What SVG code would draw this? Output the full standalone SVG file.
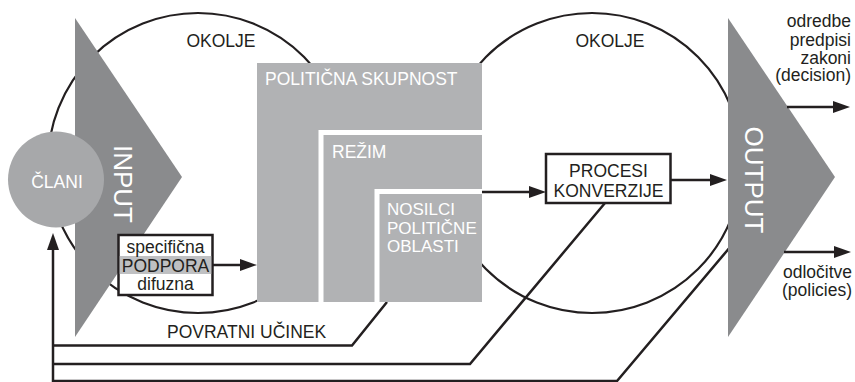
<svg xmlns="http://www.w3.org/2000/svg" width="855" height="382" viewBox="0 0 855 382">
<style>
text{font-family:"Liberation Sans",Arial,sans-serif;font-size:17.5px;fill:#231f20}
.w{fill:#fff}
.s{font-size:17px}
.big{font-size:26px;fill:#fff}
.ring{fill:none;stroke:#231f20;stroke-width:2.2}
.ln{fill:none;stroke:#231f20;stroke-width:2.5}
.tri{fill:#8a8b8d}
.box{fill:#fff;stroke:#231f20;stroke-width:2.5}
.gap{fill:none;stroke:#fff;stroke-width:5;stroke-linejoin:miter}
</style>
<defs>
<marker id="ah" markerUnits="userSpaceOnUse" markerWidth="17" markerHeight="12" refX="4" refY="6" orient="auto">
<path d="M0,0 L17,6 L0,12 z" fill="#231f20"/>
</marker>
</defs>
<rect width="855" height="382" fill="#fff"/>
<g id="okolje-left">
<circle class="ring" cx="198" cy="163" r="150"/>
<text x="221" y="47" text-anchor="middle">OKOLJE</text>
</g>
<g id="okolje-right">
<circle class="ring" cx="592" cy="163" r="150"/>
<text x="610" y="47" text-anchor="middle">OKOLJE</text>
</g>
<g id="feedback">
<polyline class="ln" points="53,345.5 352,345.5 387,302"/>
<polyline class="ln" points="53,364 470,364 605,203"/>
<polyline class="ln" points="53,381 617,381 731,246"/>
<text x="167" y="338">POVRATNI UČINEK</text>
</g>
<g id="input">
<polygon class="tri" points="75,18 182,177 75,337"/>
<text class="big" transform="translate(114,184) rotate(90)" text-anchor="middle">INPUT</text>
</g>
<g id="output">
<polygon class="tri" points="728,18 835,177 728,337"/>
<text class="big" transform="translate(745,180) rotate(90)" text-anchor="middle">OUTPUT</text>
</g>
<g id="clani">
<circle cx="56" cy="179.5" r="48" fill="#a7a8aa"/>
<text class="w" x="57" y="188" text-anchor="middle">ČLANI</text>
</g>
<g id="sistem">
<rect x="257" y="63" width="225" height="239" fill="#b1b2b4"/>
<polyline class="gap" points="321,302 321,132.5 482,132.5"/>
<polyline class="gap" points="377,302 377,191.5 482,191.5"/>
<text class="w" x="265" y="85">POLITIČNA SKUPNOST</text>
<text class="w" x="332" y="158">REŽIM</text>
<text class="w s" x="387" y="215">NOSILCI</text>
<text class="w s" x="387" y="233.5">POLITIČNE</text>
<text class="w s" x="387" y="252">OBLASTI</text>
</g>
<g id="podpora">
<rect class="box" x="118.5" y="235" width="94" height="60"/>
<rect x="119.75" y="256" width="91.5" height="18" fill="#bfc0c2"/>
<text x="165.5" y="253" text-anchor="middle">specifična</text>
<text x="165.5" y="272" text-anchor="middle">PODPORA</text>
<text x="165.5" y="290" text-anchor="middle">difuzna</text>
</g>
<g id="procesi">
<rect class="box" x="546" y="154" width="124.5" height="49"/>
<text x="608.5" y="177" text-anchor="middle">PROCESI</text>
<text x="608.5" y="196.5" text-anchor="middle">KONVERZIJE</text>
</g>
<g id="decision">
<text x="851" y="27" text-anchor="end">odredbe</text>
<text x="851" y="45.5" text-anchor="end">predpisi</text>
<text x="851" y="63.5" text-anchor="end">zakoni</text>
<text x="851" y="81" text-anchor="end">(decision)</text>
</g>
<g id="policies">
<text x="852" y="278" text-anchor="end">odločitve</text>
<text x="852" y="296" text-anchor="end">(policies)</text>
</g>
<g id="connectors">
<path class="ln" d="M53,382 V246" marker-end="url(#ah)"/>
<path class="ln" d="M213,265 H244" marker-end="url(#ah)"/>
<path class="ln" d="M482,192 H533" marker-end="url(#ah)"/>
<path class="ln" d="M671,180 H714" marker-end="url(#ah)"/>
<path class="ln" d="M787,107 H837" marker-end="url(#ah)"/>
<path class="ln" d="M784,252 H838" marker-end="url(#ah)"/>
</g>
</svg>
